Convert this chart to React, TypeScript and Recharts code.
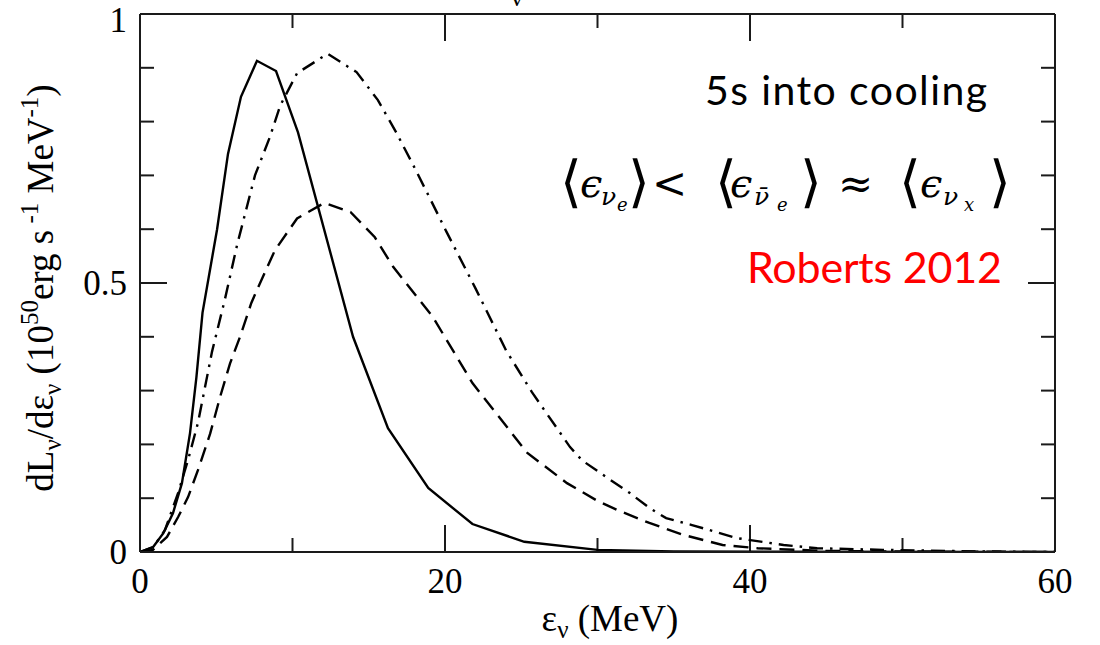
import React from 'react';
import { LineChart, Line, XAxis, YAxis, ReferenceLine } from 'recharts';

// nu_e (solid)
const nuEEnergy = [0, 0.85, 1.53, 2.16, 2.75, 3.28, 3.7, 4.1, 5.05, 5.77, 6.62, 7.67, 8.92, 10.36, 13.97, 16.26, 18.9, 21.8, 25.2, 30, 35, 60];
const nuELum = [0, 0.009, 0.035, 0.072, 0.128, 0.221, 0.325, 0.445, 0.599, 0.74, 0.846, 0.913, 0.894, 0.78, 0.4, 0.23, 0.119, 0.052, 0.019, 0.004, 0.001, 0];

// anti nu_e (dashed)
const antiNuEEnergy = [0, 0.85, 1.77, 2.5, 3.15, 3.8, 4.6, 5.25, 5.9, 6.56, 7.3, 7.67, 8.85, 10.3, 12.1, 13.8, 15.4, 16.6, 19.2, 21.8, 25.4, 28.0, 30.0, 31.3, 33.4, 35.6, 38.2, 40.5, 45, 50, 60];
const antiNuELum = [0, 0.004, 0.028, 0.065, 0.102, 0.152, 0.22, 0.288, 0.35, 0.4, 0.463, 0.487, 0.561, 0.62, 0.649, 0.632, 0.585, 0.53, 0.437, 0.314, 0.184, 0.128, 0.095, 0.078, 0.054, 0.032, 0.013, 0.007, 0.002, 0.001, 0];

// nu_x (dash-dot)
const nuXEnergy = [0, 0.87, 1.64, 2.5, 3.15, 3.8, 4.72, 5.57, 6.36, 7.54, 8.5, 9.2, 10.3, 12.3, 14.2, 15.6, 16.8, 17.9, 19.0, 20.1, 22, 24, 25.7, 28.2, 29.0, 30.8, 32.1, 33.4, 34.5, 36.2, 37.8, 39.1, 42.2, 44.4, 48.7, 55, 60];
const nuXLum = [0, 0.009, 0.041, 0.11, 0.171, 0.24, 0.372, 0.47, 0.57, 0.7, 0.77, 0.83, 0.89, 0.926, 0.892, 0.84, 0.78, 0.72, 0.658, 0.595, 0.49, 0.375, 0.297, 0.195, 0.17, 0.135, 0.11, 0.082, 0.063, 0.05, 0.037, 0.026, 0.013, 0.007, 0.004, 0.001, 0];

const xTicks = [0, 20, 40, 60];
const yTicks = [0, 0.5, 1];
const xMajorInner = [20, 40];
const xMinorInner = [10, 30, 50];
const yMajorInner = [0.5];
const yMinorInner = [0.1, 0.2, 0.3, 0.4, 0.6, 0.7, 0.8, 0.9];

const toPoints = (xs: number[], ys: number[]) => xs.map((x, i) => ({ x, y: ys[i] }));

const AXIS = '#1a1a1a';
const SERIF = '"Liberation Serif", "Times New Roman", serif';
const MATH = '"DejaVu Serif", serif';
const SANS = 'Lato, "Open Sans", sans-serif';

// tick lengths in data units (plot is 915px wide for 60 MeV, 538px tall for 1.0)
const MAJ_Y = 27 / 538;
const MIN_Y = 14 / 538;
const MAJ_X = (27 * 60) / 915;
const MIN_X = (14 * 60) / 915;

const tickSegs = () => {
  const segs: { key: string; seg: { x: number; y: number }[] }[] = [];
  xMajorInner.forEach((v) => {
    segs.push({ key: `xb${v}`, seg: [{ x: v, y: 0 }, { x: v, y: MAJ_Y }] });
    segs.push({ key: `xt${v}`, seg: [{ x: v, y: 1 }, { x: v, y: 1 - MAJ_Y }] });
  });
  xMinorInner.forEach((v) => {
    segs.push({ key: `xbm${v}`, seg: [{ x: v, y: 0 }, { x: v, y: MIN_Y }] });
    segs.push({ key: `xtm${v}`, seg: [{ x: v, y: 1 }, { x: v, y: 1 - MIN_Y }] });
  });
  yMajorInner.forEach((v) => {
    segs.push({ key: `yl${v}`, seg: [{ x: 0, y: v }, { x: MAJ_X, y: v }] });
    segs.push({ key: `yr${v}`, seg: [{ x: 60, y: v }, { x: 60 - MAJ_X, y: v }] });
  });
  yMinorInner.forEach((v) => {
    segs.push({ key: `ylm${v}`, seg: [{ x: 0, y: v }, { x: MIN_X, y: v }] });
    segs.push({ key: `yrm${v}`, seg: [{ x: 60, y: v }, { x: 60 - MIN_X, y: v }] });
  });
  return segs;
};

const Overlay = () => (
  <svg width={1100} height={645} style={{ position: 'absolute', left: 0, top: 0, pointerEvents: 'none' }}>
    {/* cropped title remnant */}
    <text x={517} y={6} fontFamily={SERIF} fontSize={26} textAnchor="middle">ν</text>

    {/* y axis title */}
    <text transform="translate(53,288) rotate(-90)" fontFamily={SERIF} fontSize={37} textAnchor="middle" fill="#000">
      dL<tspan fontSize={25} dy={8}>ν</tspan>
      <tspan dy={-8}>/dε</tspan>
      <tspan fontSize={25} dy={8}>ν</tspan>
      <tspan dy={-8}> (10</tspan>
      <tspan fontSize={25} dy={-15}>50</tspan>
      <tspan dy={15}>erg s</tspan>
      <tspan fontSize={25} dy={-15}> -1</tspan>
      <tspan dy={15}> MeV</tspan>
      <tspan fontSize={25} dy={-15}>-1</tspan>
      <tspan dy={15}>)</tspan>
    </text>

    {/* x axis title */}
    <text x={610} y={631} fontFamily={SERIF} fontSize={37} textAnchor="middle" fill="#000">
      ε<tspan fontSize={25} dy={7}>ν</tspan>
      <tspan dy={-7}> (MeV)</tspan>
    </text>

    <text x={705} y={105} fontFamily={SANS} fontSize={41} textLength={282} lengthAdjust="spacing" fill="#000">5s into cooling</text>

    {/* <eps_nue> < <eps_anue> ~ <eps_nux> */}
    <text fontFamily={MATH} fill="#000">
      <tspan x={560} y={201} fontSize={56} fontStyle="normal">⟨</tspan>
      <tspan x={580} y={197} fontSize={40} fontStyle="italic">ϵ</tspan>
      <tspan x={601} y={205} fontSize={25} fontStyle="italic">ν</tspan>
      <tspan x={617} y={211} fontSize={18} fontStyle="italic">e</tspan>
      <tspan x={628} y={201} fontSize={56} fontStyle="normal">⟩</tspan>
      <tspan x={652} y={198} fontSize={42} fontStyle="normal">&lt;</tspan>
      <tspan x={715} y={201} fontSize={56} fontStyle="normal">⟨</tspan>
      <tspan x={730} y={197} fontSize={40} fontStyle="italic">ϵ</tspan>
      <tspan x={754} y={205} fontSize={25} fontStyle="italic">ν̄</tspan>
      <tspan x={777} y={211} fontSize={18} fontStyle="italic">e</tspan>
      <tspan x={800} y={201} fontSize={56} fontStyle="normal">⟩</tspan>
      <tspan x={838} y={198} fontSize={42} fontStyle="normal">≈</tspan>
      <tspan x={899} y={201} fontSize={56} fontStyle="normal">⟨</tspan>
      <tspan x={920} y={197} fontSize={40} fontStyle="italic">ϵ</tspan>
      <tspan x={943} y={205} fontSize={25} fontStyle="italic">ν</tspan>
      <tspan x={964} y={211} fontSize={18} fontStyle="italic">x</tspan>
      <tspan x={989} y={201} fontSize={56} fontStyle="normal">⟩</tspan>
    </text>

    <text x={747} y={283} fontFamily={SANS} fontSize={43} textLength={255} lengthAdjust="spacing" fill="#ff0000">Roberts 2012</text>
  </svg>
);

export default function App() {
  return (
    <div style={{ position: 'absolute', left: 0, top: 0, width: 1100, height: 645, background: '#fff' }}>
      <LineChart width={1100} height={645} margin={{ top: 14, right: 45, left: 80, bottom: 53 }}>
        <XAxis
          dataKey="x"
          type="number"
          domain={[0, 60]}
          ticks={xTicks}
          allowDataOverflow
          height={40}
          tickLine={false}
          tickSize={6}
          tickMargin={10}
          axisLine={{ stroke: AXIS, strokeWidth: 2 }}
          tick={{ fontFamily: SERIF, fontSize: 35, fill: '#000' }}
        />
        <YAxis
          type="number"
          domain={[0, 1]}
          ticks={yTicks}
          allowDataOverflow
          width={60}
          tickLine={false}
          tickSize={6}
          tickMargin={7}
          axisLine={{ stroke: AXIS, strokeWidth: 2 }}
          tickFormatter={(v: number) => String(v)}
          tick={{ fontFamily: SERIF, fontSize: 35, fill: '#000' }}
        />
        <ReferenceLine y={1} stroke={AXIS} strokeWidth={2} />
        <ReferenceLine x={60} stroke={AXIS} strokeWidth={2} />
        {tickSegs().map((t) => (
          <ReferenceLine key={t.key} segment={t.seg} stroke={AXIS} strokeWidth={2} />
        ))}
        <Line
          data={toPoints(nuEEnergy, nuELum)}
          dataKey="y"
          type="linear"
          stroke="#000"
          strokeWidth={2.4}
          dot={false}
          isAnimationActive={false}
        />
        <Line
          data={toPoints(antiNuEEnergy, antiNuELum)}
          dataKey="y"
          type="linear"
          stroke="#000"
          strokeWidth={2.4}
          strokeDasharray="15 8"
          dot={false}
          isAnimationActive={false}
        />
        <Line
          data={toPoints(nuXEnergy, nuXLum)}
          dataKey="y"
          type="linear"
          stroke="#000"
          strokeWidth={2.4}
          strokeDasharray="14 7 2.5 7"
          dot={false}
          isAnimationActive={false}
        />
      </LineChart>
      <Overlay />
    </div>
  );
}
